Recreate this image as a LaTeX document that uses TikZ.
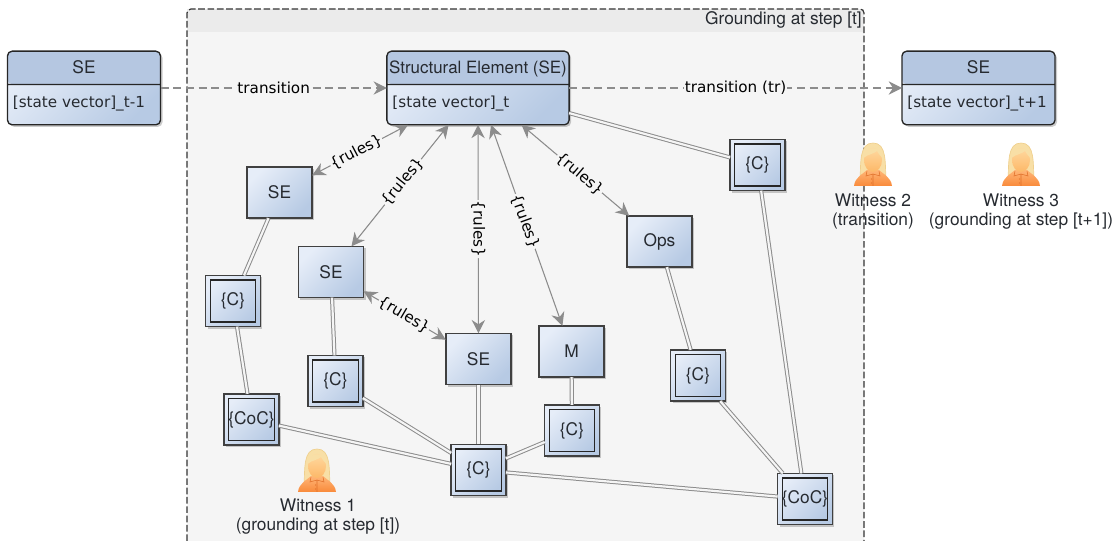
\documentclass[tikz,border=0pt]{standalone}
\usepackage{fontspec}
\setmainfont{TeX Gyre Heros}
\newfontfamily\statefont{DejaVu Sans}
\usetikzlibrary{arrows.meta,shapes.multipart,shadows}

\definecolor{headblue}{HTML}{B5C7E1}
\definecolor{paleblue}{HTML}{E6EDF8}
\definecolor{deepblue}{HTML}{B7CAE4}
\definecolor{framegray}{HTML}{F5F5F5}
\definecolor{bandgray}{HTML}{EBEBEB}
\definecolor{edgegray}{HTML}{8C8C8C}
\definecolor{inkgray}{HTML}{262A30}
\definecolor{hairyellow}{HTML}{F8DFA6}
\definecolor{hairedge}{HTML}{EFD08E}
\definecolor{shirtlight}{HTML}{FFB678}
\definecolor{shirtdark}{HTML}{F98A3A}
\definecolor{shirtline}{HTML}{E0702A}
\definecolor{facelight}{HTML}{FFD9A0}
\definecolor{facedark}{HTML}{FDB868}

\newcommand{\headrule}{\rule[-8pt]{0pt}{24pt}}
\newcommand{\bodyrule}{\rule[-12.5pt]{0pt}{29.25pt}}
\newcommand{\statetext}{\statefont\fontsize{11.4}{13}\selectfont}

\tikzset{
    every node/.style={font=\fontsize{13}{14.25}\selectfont,text=inkgray},
    softshadow/.style={drop shadow={shadow xshift=1.5pt,shadow yshift=-1.5pt,opacity=.2,fill=black}},
    bluefill/.style={left color=paleblue,right color=deepblue,shading angle=45},
    sebox/.style={rectangle split,rectangle split parts=2,rectangle split part align={center,left},
        draw=black!85,line width=1pt,rounded corners=3.5pt,bluefill,softshadow,outer sep=0pt,
        inner xsep=4pt,inner ysep=0pt,minimum width=114.75pt,
        path picture={\fill[headblue] (path picture bounding box.north west) rectangle
            ([yshift=-24.75pt]path picture bounding box.north east);}},
    smallbox/.style={draw=black!75,line width=1.1pt,bluefill,softshadow,outer sep=0pt,
        minimum width=49pt,minimum height=38.5pt},
    dblbox/.style={draw=black!75,line width=1.1pt,bluefill,softshadow,outer sep=0pt,inner sep=0pt,
        minimum width=41pt,minimum height=38.5pt,
        path picture={\draw[black!85,line width=1pt] ([xshift=3.4pt,yshift=3.4pt]path picture bounding box.south west)
            rectangle ([xshift=-3.4pt,yshift=-3.4pt]path picture bounding box.north east);}},
    dblline/.style={draw=edgegray,line width=.75pt,double=framegray,double distance=1.6pt},
    ruleline/.style={draw=edgegray,line width=.8pt,{Stealth[length=10pt,width=10pt]}-{Stealth[length=10pt,width=10pt]}},
    stepline/.style={draw=edgegray,line width=.9pt,dash pattern=on 6pt off 3.5pt,-{Stealth[length=10pt,width=10pt]}},
    edgetext/.style={font=\statefont\fontsize{11.4}{13}\selectfont,text=black,fill=framegray,inner sep=.5pt},
    witnesstext/.style={align=center},
    witness/.pic={
        \fill[hairyellow,draw=hairedge,line width=.5pt]
            (-13,37) .. controls (-12,20) and (-14,0) .. (0,0) .. controls (14,0) and (12,20) .. (13,37) -- cycle;
        \shade[top color=shirtlight,bottom color=shirtdark]
            (-19,43) .. controls (-18,34) and (-10,31) .. (-6,27) -- (6,27)
            .. controls (10,31) and (18,34) .. (19,43) -- cycle;
        \draw[shirtline,line width=.4pt] (-6,28) -- (-7,33) -- (0,31) -- (7,33) -- (6,28) (0,31) -- (0,43);
        \fill[shirtline] (-1.5,36) circle (.6) (-1.5,40) circle (.6);
        \shade[top color=facelight,bottom color=facedark]
            (0,17) ellipse (9 and 12);
        \fill[hairyellow] (-9.5,15) .. controls (-10,2) and (10,2) .. (9.5,15)
            .. controls (6,12) and (5,9) .. (4,8) .. controls (1,11) and (-5,11) .. (-9.5,15) -- cycle;
    }
}

\begin{document}
\begin{tikzpicture}[x=.75pt,y=-.75pt]
\useasboundingbox (0,0) rectangle (1115,541);

% grounding frame
\fill[framegray] (187,9) rectangle (864,541);
\fill[bandgray] (187,9) rectangle (864,32);
\draw[black!80,line width=.9pt,dash pattern=on 5pt off 2pt,rounded corners=3pt]
    (187,541) -- (187,9) -- (864,9) -- (864,541);
\node[anchor=east,inner sep=0pt] (groundtitle) at (862,20) {Grounding at step [t]};

\node[sebox] (seprev) at (84,88) {SE\headrule\nodepart{two}\statetext [state vector]\_t-1\bodyrule};
\node[sebox,inner xsep=1.7pt,minimum width=136pt,font=\fontsize{12.7}{14.25}\selectfont] (sem) at (478,88) {Structural Element (SE)\headrule\nodepart{two}\statetext\hspace{2.5pt}[state vector]\_t\bodyrule};
\node[sebox] (senext) at (978.5,88) {SE\headrule\nodepart{two}\statetext [state vector]\_t+1\bodyrule};

\node[smallbox] (seone) at (279.5,192.5) {SE};
\node[smallbox] (setwo) at (331,272) {SE};
\node[smallbox] (sethree) at (478.5,359) {SE};
\node[smallbox] (mone) at (571.5,351.5) {M};
\node[smallbox] (ops) at (659.5,241.5) {Ops};

\node[dblbox] (ctop) at (757.5,165) {\{C\}};
\node[dblbox] (cone) at (233,301) {\{C\}};
\node[dblbox] (ctwo) at (335.5,381) {\{C\}};
\node[dblbox] (cthree) at (478.5,470) {\{C\}};
\node[dblbox] (cfour) at (572,430.5) {\{C\}};
\node[dblbox] (cfive) at (698,375.5) {\{C\}};
\node[dblbox] (cocone) at (251.5,419.5) {\{CoC\}};
\node[dblbox] (coctwo) at (805,499) {\{CoC\}};

\draw[stepline] (seprev) -- node[edgetext,pos=.5] (trleft) {transition} (sem);
\draw[stepline] (sem) -- node[edgetext,pos=.5] (trright) {transition (tr)} (senext);

\draw[ruleline] (sem) -- node[edgetext,sloped,pos=.54] (ruleone) {\{rules\}} (seone);
\draw[ruleline] (sem) -- node[edgetext,sloped,pos=.47] (ruletwo) {\{rules\}} (setwo);
\draw[ruleline] (sem) -- node[edgetext,sloped,pos=.5] (rulethree) {\{rules\}} (sethree);
\draw[ruleline] (sem) -- node[edgetext,sloped,pos=.48] (rulefour) {\{rules\}} (mone);
\draw[ruleline] (sem) -- node[edgetext,sloped,pos=.54] (rulefive) {\{rules\}} (ops);
\draw[ruleline] (setwo) -- node[edgetext,sloped,pos=.49] (rulesix) {\{rules\}} (sethree);

\draw[dblline] (sem) -- (ctop);
\draw[dblline] (seone) -- (cone);
\draw[dblline] (cone) -- (cocone);
\draw[dblline] (setwo) -- (ctwo);
\draw[dblline] (ctwo) -- (cthree);
\draw[dblline] (cocone) -- (cthree);
\draw[dblline] (sethree) -- (cthree);
\draw[dblline] (mone) -- (cfour);
\draw[dblline] (cfour) -- (cthree);
\draw[dblline] (cthree) -- (coctwo);
\draw[dblline] (ops) -- (cfive);
\draw[dblline] (cfive) -- (coctwo);
\draw[dblline] (ctop) -- (coctwo);

% witnesses
\pic at (317,449) {witness};
\pic at (873,143) {witness};
\pic at (1021,143) {witness};
\node[witnesstext] (wone) at (318,516.5) {Witness 1\\(grounding at step [t])};
\node[witnesstext] (wtwo) at (873,212) {Witness 2\\(transition)};
\node[witnesstext] (wthree) at (1021,212) {Witness 3\\(grounding at step [t+1])};
\end{tikzpicture}
\end{document}
